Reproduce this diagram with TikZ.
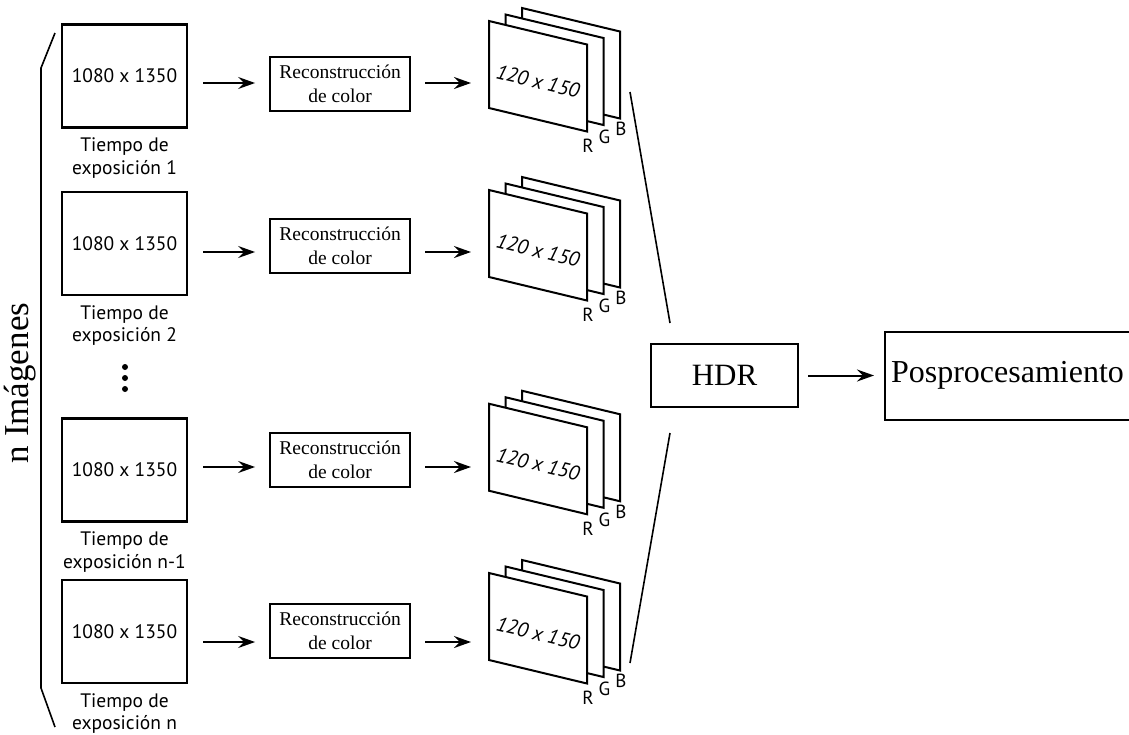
\documentclass[tikz,border=0pt]{standalone}
\usepackage{fontspec}
\setmainfont{Liberation Serif}
\newfontfamily\capfont{PT Sans}
\usepackage{tikz}
\usetikzlibrary{arrows.meta,positioning,calc}

\begin{document}
\begin{tikzpicture}[x=1pt,y=-1pt,
  imgbox/.style={rectangle,draw,line width=2.2pt,minimum width=125pt,minimum height=103pt,font=\capfont\fontsize{19.5}{22}\selectfont},
  caption/.style={align=center,inner sep=0pt,font=\capfont\fontsize{19.5}{22.5}\selectfont},
  recbox/.style={rectangle,draw,line width=2pt,minimum width=140pt,minimum height=54pt,align=center,inner sep=0pt,font=\fontsize{19.5}{24}\selectfont},
  plane/.style={rectangle,draw,fill=white,line width=2pt,minimum width=98pt,minimum height=87pt,inner sep=0pt,yslant=-0.24,transform shape},
  size/.style={rotate=-13.5,inner sep=0pt,font=\capfont\itshape\fontsize{20.5}{24}\selectfont},
  chan/.style={anchor=north,inner sep=0pt,font=\capfont\fontsize{19}{20}\selectfont},
  bigbox/.style={rectangle,draw,line width=2pt,align=center},
  dot/.style={circle,fill,inner sep=0pt,minimum size=6pt},
  arr/.style={-{Stealth[length=17pt,width=12pt,inset=6pt]},line width=2pt},
  link/.style={line width=1.6pt}
]
\useasboundingbox (0,0) rectangle (1129,734);

% rows (arrow heights)
\coordinate (row1) at (0,83);
\coordinate (row2) at (0,252);
\coordinate (row3) at (0,467);
\coordinate (row4) at (0,642);

% input images
\node[imgbox] (img1) at (124.5,76) {1080 x 1350};
\node[imgbox] (img2) at (124.5,243.5) {1080 x 1350};
\node[imgbox] (img3) at (124.5,470) {1080 x 1350};
\node[imgbox] (img4) at (124.5,631.5) {1080 x 1350};
\node[caption,below=9pt of img1] (cap1) {Tiempo de\\exposición 1};
\node[caption,below=9pt of img2] (cap2) {Tiempo de\\exposición 2};
\node[caption,below=9pt of img3] (cap3) {Tiempo de\\exposición n-1};
\node[caption,below=9pt of img4] (cap4) {Tiempo de\\exposición n};
\node[dot] (d1) at (125,367) {};
\node[dot] (d2) at (125,378) {};
\node[dot] (d3) at (125,389) {};

% color reconstruction
\node[recbox,right=81pt of img1,yshift=-8pt] (rec1) {Reconstrucción\\de color};
\node[recbox,right=81pt of img2,yshift=-2pt] (rec2) {Reconstrucción\\de color};
\node[recbox,right=81pt of img3,yshift=10pt] (rec3) {Reconstrucción\\de color};
\node[recbox,right=81pt of img4,yshift=1pt] (rec4) {Reconstrucción\\de color};

% RGB stacks
\node[plane] (b1) at (571,63.25) {};
\node[plane] (g1) at (554.5,69.75) {};
\node[plane] (r1) at (538,76.25) {};
\node[plane] (b2) at (571,232.25) {};
\node[plane] (g2) at (554.5,238.75) {};
\node[plane] (r2) at (538,245.25) {};
\node[plane] (b3) at (571,446) {};
\node[plane] (g3) at (554.5,452.5) {};
\node[plane] (r3) at (538,459) {};
\node[plane] (b4) at (571,615.25) {};
\node[plane] (g4) at (554.5,621.75) {};
\node[plane] (r4) at (538,628.25) {};
\node[size] (s1) at ([yshift=-5pt]r1.center) {120 x 150};
\node[size] (s2) at ([yshift=-5pt]r2.center) {120 x 150};
\node[size] (s3) at ([yshift=-5pt]r3.center) {120 x 150};
\node[size] (s4) at ([yshift=-5pt]r4.center) {120 x 150};
\node[chan,yshift=-6pt] (lr1) at (r1.south east) {R};
\node[chan,yshift=-4pt] (lg1) at (g1.south east) {G};
\node[chan,yshift=-2pt] (lb1) at (b1.south east) {B};
\node[chan,yshift=-6pt] (lr2) at (r2.south east) {R};
\node[chan,yshift=-4pt] (lg2) at (g2.south east) {G};
\node[chan,yshift=-2pt] (lb2) at (b2.south east) {B};
\node[chan,yshift=-6pt] (lr3) at (r3.south east) {R};
\node[chan,yshift=-4pt] (lg3) at (g3.south east) {G};
\node[chan,yshift=-2pt] (lb3) at (b3.south east) {B};
\node[chan,yshift=-6pt] (lr4) at (r4.south east) {R};
\node[chan,yshift=-4pt] (lg4) at (g4.south east) {G};
\node[chan,yshift=-2pt] (lb4) at (b4.south east) {B};

% fusion
\node[bigbox,minimum width=147pt,minimum height=63pt,font=\fontsize{31}{36}\selectfont] (hdr) at (724.5,375.5) {HDR};
\node[bigbox,minimum width=245pt,minimum height=88pt,font=\fontsize{32}{38}\selectfont,right=85pt of hdr] (post) {Posprocesamiento};

% arrows
\draw[arr,shorten <=15pt,shorten >=14pt] (img1.east |- row1) -- (rec1.west |- row1);
\draw[arr,shorten <=15pt,shorten >=14pt] (img2.east |- row2) -- (rec2.west |- row2);
\draw[arr,shorten <=15pt,shorten >=14pt] (img3.east |- row3) -- (rec3.west |- row3);
\draw[arr,shorten <=15pt,shorten >=14pt] (img4.east |- row4) -- (rec4.west |- row4);
\draw[arr,shorten <=14pt,shorten >=17pt] (rec1.east |- row1) -- (r1.west |- row1);
\draw[arr,shorten <=14pt,shorten >=17pt] (rec2.east |- row2) -- (r2.west |- row2);
\draw[arr,shorten <=14pt,shorten >=17pt] (rec3.east |- row3) -- (r3.west |- row3);
\draw[arr,shorten <=14pt,shorten >=17pt] (rec4.east |- row4) -- (r4.west |- row4);
\draw[arr,shorten <=9pt,shorten >=10pt] (hdr) -- (post);

% stacks to HDR
\coordinate (in1) at (630,92);
\coordinate (in2) at (630,663);
\draw[link] (in1) -- ($(hdr.north west)+(20,-20)$);
\draw[link] (in2) -- ($(hdr.south west)+(20,25)$);

% n images brace
\node[rotate=90,inner sep=0pt,font=\fontsize{35}{40}\selectfont] (nimg) at (20,383) {n Imágenes};
\draw[link] (55,33) -- (41,68) -- (41,688) -- (55,727);
\end{tikzpicture}
\end{document}
